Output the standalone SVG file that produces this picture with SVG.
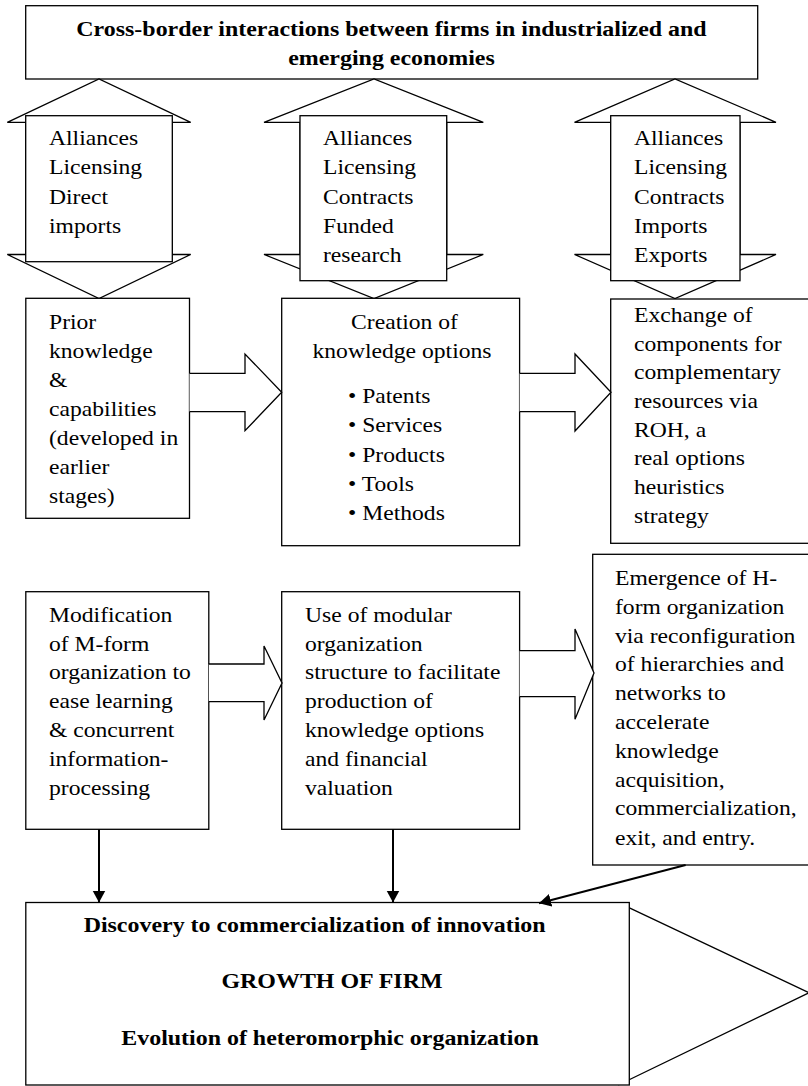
<svg xmlns="http://www.w3.org/2000/svg" width="808" height="1086" viewBox="0 0 808 1086">
  <style>
    .box { fill: #fff; stroke: #000; stroke-width: 1.3; }
    .shape { fill: #fff; stroke: #000; stroke-width: 1.3; stroke-linejoin: miter; }
    .link { fill: none; stroke: #000; stroke-width: 2; }
    .t { font-family: "Liberation Serif", "Times New Roman", serif; font-size: 21px; fill: #000; }
    .b { font-weight: bold; }
    .c { text-anchor: middle; }
  </style>
  <defs>
    <marker id="head" markerUnits="userSpaceOnUse" markerWidth="14" markerHeight="14" refX="12" refY="6.5" orient="auto">
      <path d="M0,0 L12,6.5 L0,13 z" fill="#000"/>
    </marker>
  </defs>

  <rect width="808" height="1086" fill="#fff"/>

  <!-- title -->
  <g id="title">
    <rect class="box" x="25.7" y="5.7" width="732" height="73.3"/>
    <g transform="translate(391.5 0) scale(1.14 1)">
      <text class="t b c" x="0" y="36">Cross-border interactions between firms in industrialized and</text>
      <text class="t b c" x="0" y="65">emerging economies</text>
    </g>
  </g>

  <!-- two-way exchange channels -->
  <g id="channel-left">
    <polygon class="shape" points="25.7,122.3 7.3,122.3 99,79 190.7,122.3 172.3,122.3 172.3,254.5 190.7,254.5 99,298.5 7.3,254.5 25.7,254.5"/>
    <rect class="box" x="25.7" y="115.7" width="146.6" height="146"/>
    <g transform="translate(49 0) scale(1.125 1)">
      <text class="t" x="0" y="145">Alliances</text>
      <text class="t" x="0" y="174.3">Licensing</text>
      <text class="t" x="0" y="203.6">Direct</text>
      <text class="t" x="0" y="232.9">imports</text>
    </g>
  </g>

  <g id="channel-middle">
    <polygon class="shape" points="300,122.3 264,122.3 374,79 483.3,122.3 446.7,122.3 446.7,254.5 483.3,254.5 374,298.5 264,254.5 300,254.5"/>
    <rect class="box" x="300" y="115.7" width="146.7" height="165"/>
    <g transform="translate(323 0) scale(1.125 1)">
      <text class="t" x="0" y="145">Alliances</text>
      <text class="t" x="0" y="174.3">Licensing</text>
      <text class="t" x="0" y="203.6">Contracts</text>
      <text class="t" x="0" y="232.9">Funded</text>
      <text class="t" x="0" y="262.2">research</text>
    </g>
  </g>

  <g id="channel-right">
    <polygon class="shape" points="610.7,122.3 574.5,122.3 675,79 776,122.3 740,122.3 740,254.5 776,254.5 675,298.5 574.5,254.5 610.7,254.5"/>
    <rect class="box" x="610.7" y="115.7" width="129.3" height="165"/>
    <g transform="translate(634 0) scale(1.125 1)">
      <text class="t" x="0" y="145">Alliances</text>
      <text class="t" x="0" y="174.3">Licensing</text>
      <text class="t" x="0" y="203.6">Contracts</text>
      <text class="t" x="0" y="232.9">Imports</text>
      <text class="t" x="0" y="262.2">Exports</text>
    </g>
  </g>

  <!-- first stage row -->
  <g id="prior">
    <rect class="box" x="25.8" y="298.3" width="163.7" height="220"/>
    <g transform="translate(49 0) scale(1.125 1)">
      <text class="t" x="0" y="329">Prior</text>
      <text class="t" x="0" y="358">knowledge</text>
      <text class="t" x="0" y="387">&amp;</text>
      <text class="t" x="0" y="416">capabilities</text>
      <text class="t" x="0" y="445">(developed in</text>
      <text class="t" x="0" y="474">earlier</text>
      <text class="t" x="0" y="503">stages)</text>
    </g>
  </g>

  <g id="creation">
    <rect class="box" x="281.7" y="298.3" width="237.9" height="247.4"/>
    <g transform="translate(404.5 0) scale(1.125 1)">
      <text class="t c" x="0" y="329">Creation of</text>
    </g>
    <g transform="translate(402 0) scale(1.125 1)">
      <text class="t c" x="0" y="358.5">knowledge options</text>
    </g>
    <g transform="translate(348 0) scale(1.125 1)">
      <text class="t" x="0" y="403">• Patents</text>
      <text class="t" x="0" y="432.3">• Services</text>
      <text class="t" x="0" y="461.6">• Products</text>
      <text class="t" x="0" y="490.9">• Tools</text>
      <text class="t" x="0" y="520.2">• Methods</text>
    </g>
  </g>

  <g id="exchange">
    <rect class="box" x="610.7" y="299" width="210" height="244.3"/>
    <g transform="translate(634 0) scale(1.125 1)">
      <text class="t" x="0" y="322">Exchange of</text>
      <text class="t" x="0" y="350.7">components for</text>
      <text class="t" x="0" y="379.4">complementary</text>
      <text class="t" x="0" y="408.1">resources via</text>
      <text class="t" x="0" y="436.8">ROH, a</text>
      <text class="t" x="0" y="465.5">real options</text>
      <text class="t" x="0" y="494.2">heuristics</text>
      <text class="t" x="0" y="522.9">strategy</text>
    </g>
  </g>

  <!-- second stage row -->
  <g id="modification">
    <rect class="box" x="25.8" y="591.7" width="183" height="237.6"/>
    <g transform="translate(49 0) scale(1.125 1)">
      <text class="t" x="0" y="621.7">Modification</text>
      <text class="t" x="0" y="650.6">of M-form</text>
      <text class="t" x="0" y="679.5">organization to</text>
      <text class="t" x="0" y="708.4">ease learning</text>
      <text class="t" x="0" y="737.3">&amp; concurrent</text>
      <text class="t" x="0" y="766.2">information-</text>
      <text class="t" x="0" y="795.1">processing</text>
    </g>
  </g>

  <g id="modular">
    <rect class="box" x="281.7" y="591.7" width="237.9" height="237.6"/>
    <g transform="translate(305 0) scale(1.125 1)">
      <text class="t" x="0" y="621.7">Use of modular</text>
      <text class="t" x="0" y="650.6">organization</text>
      <text class="t" x="0" y="679.5">structure to facilitate</text>
      <text class="t" x="0" y="708.4">production of</text>
      <text class="t" x="0" y="737.3">knowledge options</text>
      <text class="t" x="0" y="766.2">and financial</text>
      <text class="t" x="0" y="795.1">valuation</text>
    </g>
  </g>

  <g id="hform">
    <rect class="box" x="592.7" y="554.3" width="228" height="310.7"/>
    <g transform="translate(615 0) scale(1.125 1)">
      <text class="t" x="0" y="585">Emergence of H-</text>
      <text class="t" x="0" y="613.8">form organization</text>
      <text class="t" x="0" y="642.6">via reconfiguration</text>
      <text class="t" x="0" y="671.4">of hierarchies and</text>
      <text class="t" x="0" y="700.2">networks to</text>
      <text class="t" x="0" y="729">accelerate</text>
      <text class="t" x="0" y="757.8">knowledge</text>
      <text class="t" x="0" y="786.6">acquisition,</text>
      <text class="t" x="0" y="815.4">commercialization,</text>
      <text class="t" x="0" y="845">exit, and entry.</text>
    </g>
  </g>

  <!-- outcome -->
  <g id="growth">
    <polyline class="shape" points="618.3,902.7 809,992.7 618.3,1085"/>
    <rect class="box" x="25.8" y="902.5" width="603.5" height="182.5"/>
    <g transform="translate(314.6 0) scale(1.14 1)">
      <text class="t b c" x="0" y="931.7">Discovery to commercialization of innovation</text>
    </g>
    <g transform="translate(332 0) scale(1.14 1)">
      <text class="t b c" x="0" y="988">GROWTH OF FIRM</text>
    </g>
    <g transform="translate(330 0) scale(1.14 1)">
      <text class="t b c" x="0" y="1045">Evolution of heteromorphic organization</text>
    </g>
  </g>

  <!-- connectors -->
  <g id="connectors">
    <path class="shape" d="M189.5,373.3 H245 V354 L281.7,392.3 L245,430.7 V411.7 H189.5"/>
    <path class="shape" d="M519.6,373.3 H575 V354 L611,392.3 L575,431 V411.7 H519.6"/>
    <path class="shape" d="M208.8,664 H264 V646 L282,683 L264,720 V701.7 H208.8"/>
    <path class="shape" d="M519.6,650.7 H575 V629 L594,673 L575,719.3 V696.7 H519.6"/>
    <line class="link" x1="99" y1="829.3" x2="99" y2="902.5" marker-end="url(#head)"/>
    <line class="link" x1="393" y1="829.3" x2="393" y2="902.5" marker-end="url(#head)"/>
    <line class="link" x1="685.6" y1="865" x2="539" y2="903.3" stroke-width="2.6" marker-end="url(#head)"/>
  </g>
</svg>
